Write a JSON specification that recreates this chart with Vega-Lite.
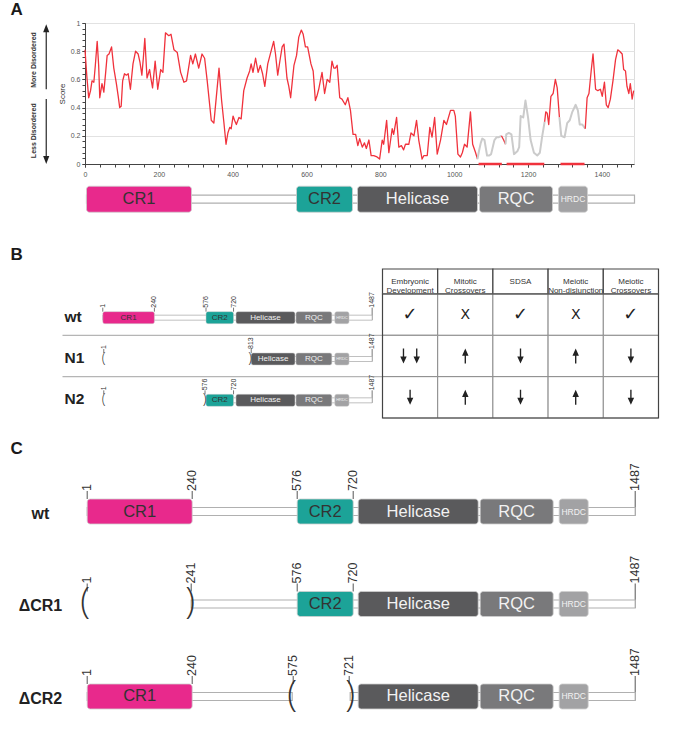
{
"$schema": "https://vega.github.io/schema/vega-lite/v6.json",
"padding": {"left": 10, "top": 0, "right": 5, "bottom": 0},
"autosize": {"type": "pad"},
"background": "white",
"spacing": 0,
"bounds": "flush",
"resolve": {"scale": {"color": "independent", "strokeWidth": "independent", "shape": "independent"}},
"config": {"view": {"stroke": null}, "font": "Liberation Sans", "axis": {"labelFont": "Liberation Sans", "titleFont": "Liberation Sans"}, "title": {"font": "Liberation Sans"}},
"datasets": {
"disorder": [
{"pos":0,"score":0.81,"seg":"s1","kind":"disordered"},{"pos":5,"score":0.62,"seg":"s1","kind":"disordered"},{"pos":10,"score":0.47,"seg":"s1","kind":"disordered"},{"pos":15,"score":0.52,"seg":"s1","kind":"disordered"},{"pos":19,"score":0.59,"seg":"s1","kind":"disordered"},{"pos":24,"score":0.58,"seg":"s1","kind":"disordered"},{"pos":28,"score":0.7,"seg":"s1","kind":"disordered"},{"pos":33,"score":0.87,"seg":"s1","kind":"disordered"},{"pos":37,"score":0.7,"seg":"s1","kind":"disordered"},{"pos":40,"score":0.47,"seg":"s1","kind":"disordered"},{"pos":46,"score":0.57,"seg":"s1","kind":"disordered"},{"pos":51,"score":0.51,"seg":"s1","kind":"disordered"},{"pos":56,"score":0.65,"seg":"s1","kind":"disordered"},{"pos":60,"score":0.77,"seg":"s1","kind":"disordered"},{"pos":65,"score":0.78,"seg":"s1","kind":"disordered"},{"pos":72,"score":0.83,"seg":"s1","kind":"disordered"},{"pos":78,"score":0.68,"seg":"s1","kind":"disordered"},{"pos":85,"score":0.57,"seg":"s1","kind":"disordered"},{"pos":90,"score":0.48,"seg":"s1","kind":"disordered"},{"pos":94,"score":0.4,"seg":"s1","kind":"disordered"},{"pos":98,"score":0.41,"seg":"s1","kind":"disordered"},{"pos":102,"score":0.59,"seg":"s1","kind":"disordered"},{"pos":107,"score":0.64,"seg":"s1","kind":"disordered"},{"pos":112,"score":0.63,"seg":"s1","kind":"disordered"},{"pos":117,"score":0.64,"seg":"s1","kind":"disordered"},{"pos":123,"score":0.53,"seg":"s1","kind":"disordered"},{"pos":130,"score":0.71,"seg":"s1","kind":"disordered"},{"pos":137,"score":0.8,"seg":"s1","kind":"disordered"},{"pos":144,"score":0.78,"seg":"s1","kind":"disordered"},{"pos":149,"score":0.72,"seg":"s1","kind":"disordered"},{"pos":154,"score":0.63,"seg":"s1","kind":"disordered"},{"pos":158,"score":0.75,"seg":"s1","kind":"disordered"},{"pos":162,"score":0.89,"seg":"s1","kind":"disordered"},{"pos":168,"score":0.61,"seg":"s1","kind":"disordered"},{"pos":175,"score":0.67,"seg":"s1","kind":"disordered"},{"pos":179,"score":0.6,"seg":"s1","kind":"disordered"},{"pos":183,"score":0.54,"seg":"s1","kind":"disordered"},{"pos":190,"score":0.73,"seg":"s1","kind":"disordered"},{"pos":197,"score":0.53,"seg":"s1","kind":"disordered"},{"pos":205,"score":0.67,"seg":"s1","kind":"disordered"},{"pos":211,"score":0.65,"seg":"s1","kind":"disordered"},{"pos":218,"score":0.93,"seg":"s1","kind":"disordered"},{"pos":227,"score":0.91,"seg":"s1","kind":"disordered"},{"pos":233,"score":0.92,"seg":"s1","kind":"disordered"},{"pos":241,"score":0.81,"seg":"s1","kind":"disordered"},{"pos":250,"score":0.79,"seg":"s1","kind":"disordered"},{"pos":259,"score":0.65,"seg":"s1","kind":"disordered"},{"pos":268,"score":0.58,"seg":"s1","kind":"disordered"},{"pos":275,"score":0.59,"seg":"s1","kind":"disordered"},{"pos":286,"score":0.77,"seg":"s1","kind":"disordered"},{"pos":292,"score":0.71,"seg":"s1","kind":"disordered"},{"pos":299,"score":0.78,"seg":"s1","kind":"disordered"},{"pos":308,"score":0.68,"seg":"s1","kind":"disordered"},{"pos":317,"score":0.78,"seg":"s1","kind":"disordered"},{"pos":324,"score":0.75,"seg":"s1","kind":"disordered"},{"pos":331,"score":0.59,"seg":"s1","kind":"disordered"},{"pos":342,"score":0.31,"seg":"s1","kind":"disordered"},{"pos":349,"score":0.29,"seg":"s1","kind":"disordered"},{"pos":358,"score":0.54,"seg":"s1","kind":"disordered"},{"pos":363,"score":0.68,"seg":"s1","kind":"disordered"},{"pos":370,"score":0.45,"seg":"s1","kind":"disordered"},{"pos":376,"score":0.3,"seg":"s1","kind":"disordered"},{"pos":382,"score":0.14,"seg":"s1","kind":"disordered"},{"pos":387,"score":0.22,"seg":"s1","kind":"disordered"},{"pos":392,"score":0.26,"seg":"s1","kind":"disordered"},{"pos":396,"score":0.25,"seg":"s1","kind":"disordered"},{"pos":401,"score":0.34,"seg":"s1","kind":"disordered"},{"pos":405,"score":0.31,"seg":"s1","kind":"disordered"},{"pos":410,"score":0.28,"seg":"s1","kind":"disordered"},{"pos":417,"score":0.33,"seg":"s1","kind":"disordered"},{"pos":423,"score":0.32,"seg":"s1","kind":"disordered"},{"pos":430,"score":0.52,"seg":"s1","kind":"disordered"},{"pos":439,"score":0.61,"seg":"s1","kind":"disordered"},{"pos":446,"score":0.66,"seg":"s1","kind":"disordered"},{"pos":450,"score":0.71,"seg":"s1","kind":"disordered"},{"pos":455,"score":0.65,"seg":"s1","kind":"disordered"},{"pos":462,"score":0.75,"seg":"s1","kind":"disordered"},{"pos":469,"score":0.65,"seg":"s1","kind":"disordered"},{"pos":475,"score":0.7,"seg":"s1","kind":"disordered"},{"pos":481,"score":0.64,"seg":"s1","kind":"disordered"},{"pos":487,"score":0.55,"seg":"s1","kind":"disordered"},{"pos":495,"score":0.71,"seg":"s1","kind":"disordered"},{"pos":504,"score":0.8,"seg":"s1","kind":"disordered"},{"pos":511,"score":0.87,"seg":"s1","kind":"disordered"},{"pos":516,"score":0.78,"seg":"s1","kind":"disordered"},{"pos":522,"score":0.63,"seg":"s1","kind":"disordered"},{"pos":529,"score":0.75,"seg":"s1","kind":"disordered"},{"pos":534,"score":0.83,"seg":"s1","kind":"disordered"},{"pos":539,"score":0.85,"seg":"s1","kind":"disordered"},{"pos":547,"score":0.61,"seg":"s1","kind":"disordered"},{"pos":552,"score":0.55,"seg":"s1","kind":"disordered"},{"pos":557,"score":0.47,"seg":"s1","kind":"disordered"},{"pos":562,"score":0.6,"seg":"s1","kind":"disordered"},{"pos":566,"score":0.7,"seg":"s1","kind":"disordered"},{"pos":573,"score":0.77,"seg":"s1","kind":"disordered"},{"pos":579,"score":0.9,"seg":"s1","kind":"disordered"},{"pos":586,"score":0.95,"seg":"s1","kind":"disordered"},{"pos":591,"score":0.92,"seg":"s1","kind":"disordered"},{"pos":597,"score":0.83,"seg":"s1","kind":"disordered"},{"pos":603,"score":0.83,"seg":"s1","kind":"disordered"},{"pos":612,"score":0.71,"seg":"s1","kind":"disordered"},{"pos":618,"score":0.66,"seg":"s1","kind":"disordered"},{"pos":624,"score":0.45,"seg":"s1","kind":"disordered"},{"pos":628,"score":0.48,"seg":"s1","kind":"disordered"},{"pos":633,"score":0.53,"seg":"s1","kind":"disordered"},{"pos":642,"score":0.65,"seg":"s1","kind":"disordered"},{"pos":649,"score":0.5,"seg":"s1","kind":"disordered"},{"pos":656,"score":0.6,"seg":"s1","kind":"disordered"},{"pos":663,"score":0.58,"seg":"s1","kind":"disordered"},{"pos":669,"score":0.73,"seg":"s1","kind":"disordered"},{"pos":674,"score":0.68,"seg":"s1","kind":"disordered"},{"pos":678,"score":0.68,"seg":"s1","kind":"disordered"},{"pos":683,"score":0.7,"seg":"s1","kind":"disordered"},{"pos":690,"score":0.47,"seg":"s1","kind":"disordered"},{"pos":696,"score":0.46,"seg":"s1","kind":"disordered"},{"pos":705,"score":0.42,"seg":"s1","kind":"disordered"},{"pos":712,"score":0.47,"seg":"s1","kind":"disordered"},{"pos":719,"score":0.38,"seg":"s1","kind":"disordered"},{"pos":726,"score":0.21,"seg":"s1","kind":"disordered"},{"pos":733,"score":0.21,"seg":"s1","kind":"disordered"},{"pos":739,"score":0.13,"seg":"s1","kind":"disordered"},{"pos":744,"score":0.18,"seg":"s1","kind":"disordered"},{"pos":751,"score":0.12,"seg":"s1","kind":"disordered"},{"pos":757,"score":0.15,"seg":"s1","kind":"disordered"},{"pos":762,"score":0.11,"seg":"s1","kind":"disordered"},{"pos":769,"score":0.17,"seg":"s1","kind":"disordered"},{"pos":775,"score":0.06,"seg":"s1","kind":"disordered"},{"pos":782,"score":0.06,"seg":"s1","kind":"disordered"},{"pos":791,"score":0.05,"seg":"s1","kind":"disordered"},{"pos":798,"score":0.035,"seg":"s1","kind":"disordered"},{"pos":805,"score":0.17,"seg":"s1","kind":"disordered"},{"pos":809,"score":0.14,"seg":"s1","kind":"disordered"},{"pos":817,"score":0.31,"seg":"s1","kind":"disordered"},{"pos":823,"score":0.08,"seg":"s1","kind":"disordered"},{"pos":832,"score":0.25,"seg":"s1","kind":"disordered"},{"pos":836,"score":0.21,"seg":"s1","kind":"disordered"},{"pos":844,"score":0.33,"seg":"s1","kind":"disordered"},{"pos":850,"score":0.12,"seg":"s1","kind":"disordered"},{"pos":857,"score":0.13,"seg":"s1","kind":"disordered"},{"pos":863,"score":0.1,"seg":"s1","kind":"disordered"},{"pos":868,"score":0.14,"seg":"s1","kind":"disordered"},{"pos":877,"score":0.14,"seg":"s1","kind":"disordered"},{"pos":883,"score":0.22,"seg":"s1","kind":"disordered"},{"pos":891,"score":0.2,"seg":"s1","kind":"disordered"},{"pos":898,"score":0.31,"seg":"s1","kind":"disordered"},{"pos":904,"score":0.17,"seg":"s1","kind":"disordered"},{"pos":913,"score":0.035,"seg":"s1","kind":"disordered"},{"pos":918,"score":0.06,"seg":"s1","kind":"disordered"},{"pos":927,"score":0.06,"seg":"s1","kind":"disordered"},{"pos":934,"score":0.26,"seg":"s1","kind":"disordered"},{"pos":940,"score":0.19,"seg":"s1","kind":"disordered"},{"pos":947,"score":0.33,"seg":"s1","kind":"disordered"},{"pos":954,"score":0.07,"seg":"s1","kind":"disordered"},{"pos":963,"score":0.17,"seg":"s1","kind":"disordered"},{"pos":972,"score":0.31,"seg":"s1","kind":"disordered"},{"pos":979,"score":0.28,"seg":"s1","kind":"disordered"},{"pos":990,"score":0.38,"seg":"s1","kind":"disordered"},{"pos":999,"score":0.38,"seg":"s1","kind":"disordered"},{"pos":1003,"score":0.34,"seg":"s1","kind":"disordered"},{"pos":1010,"score":0.07,"seg":"s1","kind":"disordered"},{"pos":1017,"score":0.05,"seg":"s1","kind":"disordered"},{"pos":1022,"score":0.08,"seg":"s1","kind":"disordered"},{"pos":1028,"score":0.14,"seg":"s1","kind":"disordered"},{"pos":1035,"score":0.12,"seg":"s1","kind":"disordered"},{"pos":1044,"score":0.37,"seg":"s1","kind":"disordered"},{"pos":1050,"score":0.14,"seg":"s1","kind":"disordered"},{"pos":1058,"score":0.08,"seg":"s1","kind":"disordered"},{"pos":1063,"score":0.035,"seg":"s1","kind":"disordered"},
{"pos":1063,"score":0.035,"seg":"s2","kind":"masked"},{"pos":1067,"score":0.09,"seg":"s2","kind":"masked"},{"pos":1072,"score":0.15,"seg":"s2","kind":"masked"},{"pos":1076,"score":0.18,"seg":"s2","kind":"masked"},{"pos":1082,"score":0.17,"seg":"s2","kind":"masked"},{"pos":1089,"score":0.06,"seg":"s2","kind":"masked"},{"pos":1095,"score":0.06,"seg":"s2","kind":"masked"},{"pos":1100,"score":0.07,"seg":"s2","kind":"masked"},{"pos":1109,"score":0.17,"seg":"s2","kind":"masked"},{"pos":1115,"score":0.19,"seg":"s2","kind":"masked"},{"pos":1121,"score":0.19,"seg":"s2","kind":"masked"},{"pos":1128,"score":0.2,"seg":"s2","kind":"masked"},
{"pos":1128,"score":0.2,"seg":"s3","kind":"disordered"},{"pos":1134,"score":0.17,"seg":"s3","kind":"disordered"},{"pos":1139,"score":0.14,"seg":"s3","kind":"disordered"},
{"pos":1139,"score":0.14,"seg":"s4","kind":"masked"},{"pos":1141,"score":0.21,"seg":"s4","kind":"masked"},{"pos":1148,"score":0.22,"seg":"s4","kind":"masked"},{"pos":1155,"score":0.21,"seg":"s4","kind":"masked"},{"pos":1162,"score":0.07,"seg":"s4","kind":"masked"},{"pos":1171,"score":0.09,"seg":"s4","kind":"masked"},{"pos":1176,"score":0.12,"seg":"s4","kind":"masked"},{"pos":1180,"score":0.34,"seg":"s4","kind":"masked"},{"pos":1187,"score":0.33,"seg":"s4","kind":"masked"},{"pos":1193,"score":0.45,"seg":"s4","kind":"masked"},{"pos":1200,"score":0.33,"seg":"s4","kind":"masked"},{"pos":1207,"score":0.17,"seg":"s4","kind":"masked"},{"pos":1216,"score":0.08,"seg":"s4","kind":"masked"},{"pos":1225,"score":0.06,"seg":"s4","kind":"masked"},{"pos":1232,"score":0.08,"seg":"s4","kind":"masked"},{"pos":1238,"score":0.19,"seg":"s4","kind":"masked"},{"pos":1245,"score":0.3,"seg":"s4","kind":"masked"},
{"pos":1245,"score":0.3,"seg":"s5","kind":"disordered"},{"pos":1248,"score":0.37,"seg":"s5","kind":"disordered"},{"pos":1252,"score":0.36,"seg":"s5","kind":"disordered"},{"pos":1256,"score":0.28,"seg":"s5","kind":"disordered"},{"pos":1262,"score":0.48,"seg":"s5","kind":"disordered"},{"pos":1268,"score":0.5,"seg":"s5","kind":"disordered"},{"pos":1274,"score":0.6,"seg":"s5","kind":"disordered"},{"pos":1279,"score":0.54,"seg":"s5","kind":"disordered"},{"pos":1285,"score":0.33,"seg":"s5","kind":"disordered"},
{"pos":1285,"score":0.33,"seg":"s6","kind":"masked"},{"pos":1290,"score":0.2,"seg":"s6","kind":"masked"},{"pos":1299,"score":0.19,"seg":"s6","kind":"masked"},{"pos":1306,"score":0.29,"seg":"s6","kind":"masked"},{"pos":1313,"score":0.31,"seg":"s6","kind":"masked"},{"pos":1320,"score":0.37,"seg":"s6","kind":"masked"},{"pos":1329,"score":0.42,"seg":"s6","kind":"masked"},{"pos":1335,"score":0.38,"seg":"s6","kind":"masked"},{"pos":1340,"score":0.28,"seg":"s6","kind":"masked"},{"pos":1347,"score":0.28,"seg":"s6","kind":"masked"},{"pos":1355,"score":0.25,"seg":"s6","kind":"masked"},
{"pos":1355,"score":0.25,"seg":"s7","kind":"disordered"},{"pos":1360,"score":0.47,"seg":"s7","kind":"disordered"},{"pos":1365,"score":0.5,"seg":"s7","kind":"disordered"},{"pos":1371,"score":0.66,"seg":"s7","kind":"disordered"},{"pos":1376,"score":0.78,"seg":"s7","kind":"disordered"},{"pos":1383,"score":0.53,"seg":"s7","kind":"disordered"},{"pos":1389,"score":0.52,"seg":"s7","kind":"disordered"},{"pos":1396,"score":0.53,"seg":"s7","kind":"disordered"},{"pos":1401,"score":0.48,"seg":"s7","kind":"disordered"},{"pos":1407,"score":0.58,"seg":"s7","kind":"disordered"},{"pos":1412,"score":0.42,"seg":"s7","kind":"disordered"},{"pos":1417,"score":0.4,"seg":"s7","kind":"disordered"},{"pos":1423,"score":0.46,"seg":"s7","kind":"disordered"},{"pos":1430,"score":0.59,"seg":"s7","kind":"disordered"},{"pos":1437,"score":0.74,"seg":"s7","kind":"disordered"},{"pos":1443,"score":0.81,"seg":"s7","kind":"disordered"},{"pos":1448,"score":0.8,"seg":"s7","kind":"disordered"},{"pos":1455,"score":0.78,"seg":"s7","kind":"disordered"},{"pos":1459,"score":0.67,"seg":"s7","kind":"disordered"},{"pos":1464,"score":0.66,"seg":"s7","kind":"disordered"},{"pos":1468,"score":0.55,"seg":"s7","kind":"disordered"},{"pos":1473,"score":0.5,"seg":"s7","kind":"disordered"},{"pos":1477,"score":0.57,"seg":"s7","kind":"disordered"},{"pos":1482,"score":0.46,"seg":"s7","kind":"disordered"},{"pos":1486,"score":0.52,"seg":"s7","kind":"disordered"}
],
"ordered_regions": [{"start":1066,"end":1129},{"start":1142,"end":1244},{"start":1288,"end":1353}],
"notes": [{"label":"More Disordered","dir":"up"},{"label":"Less Disordered","dir":"down"}],
"domains": [
{"panel":"A","row":"wt","name":"CR1","start":0,"end":105},{"panel":"A","row":"wt","name":"CR2","start":210,"end":266},{"panel":"A","row":"wt","name":"Helicase","start":271,"end":391},{"panel":"A","row":"wt","name":"RQC","start":393,"end":466},{"panel":"A","row":"wt","name":"HRDC","start":472,"end":501},
{"panel":"B","row":"wt","name":"CR1","start":0,"end":105},{"panel":"B","row":"wt","name":"CR2","start":210,"end":266},{"panel":"B","row":"wt","name":"Helicase","start":271,"end":391},{"panel":"B","row":"wt","name":"RQC","start":393,"end":466},{"panel":"B","row":"wt","name":"HRDC","start":472,"end":501},
{"panel":"B","row":"N1","name":"Helicase","start":302,"end":391},{"panel":"B","row":"N1","name":"RQC","start":393,"end":466},{"panel":"B","row":"N1","name":"HRDC","start":472,"end":501},
{"panel":"B","row":"N2","name":"CR2","start":210,"end":266},{"panel":"B","row":"N2","name":"Helicase","start":271,"end":391},{"panel":"B","row":"N2","name":"RQC","start":393,"end":466},{"panel":"B","row":"N2","name":"HRDC","start":472,"end":501},
{"panel":"C","row":"wt","name":"CR1","start":0,"end":105},{"panel":"C","row":"wt","name":"CR2","start":210,"end":266},{"panel":"C","row":"wt","name":"Helicase","start":271,"end":391},{"panel":"C","row":"wt","name":"RQC","start":393,"end":466},{"panel":"C","row":"wt","name":"HRDC","start":472,"end":501},
{"panel":"C","row":"ΔCR1","name":"CR2","start":210,"end":266},{"panel":"C","row":"ΔCR1","name":"Helicase","start":271,"end":391},{"panel":"C","row":"ΔCR1","name":"RQC","start":393,"end":466},{"panel":"C","row":"ΔCR1","name":"HRDC","start":472,"end":501},
{"panel":"C","row":"ΔCR2","name":"CR1","start":0,"end":105},{"panel":"C","row":"ΔCR2","name":"Helicase","start":271,"end":391},{"panel":"C","row":"ΔCR2","name":"RQC","start":393,"end":466},{"panel":"C","row":"ΔCR2","name":"HRDC","start":472,"end":501}
],
"tracks": [
{"panel":"A","row":"wt","start":0,"end":548},
{"panel":"B","row":"wt","start":0,"end":548},{"panel":"B","row":"N1","start":302,"end":548},{"panel":"B","row":"N2","start":210,"end":548},
{"panel":"C","row":"wt","start":0,"end":548},{"panel":"C","row":"ΔCR1","start":104,"end":548},{"panel":"C","row":"ΔCR2","start":0,"end":205},{"panel":"C","row":"ΔCR2","start":263,"end":548}
],
"sites": [
{"panel":"B","row":"wt","pos":0,"label":"1"},{"panel":"B","row":"wt","pos":105,"label":"240"},{"panel":"B","row":"wt","pos":210,"label":"576"},{"panel":"B","row":"wt","pos":266,"label":"720"},{"panel":"B","row":"wt","pos":548,"label":"1487"},
{"panel":"B","row":"N1","pos":2,"label":"1"},{"panel":"B","row":"N1","pos":302,"label":"813"},{"panel":"B","row":"N1","pos":548,"label":"1487"},
{"panel":"B","row":"N2","pos":2,"label":"1"},{"panel":"B","row":"N2","pos":208,"label":"576"},{"panel":"B","row":"N2","pos":266,"label":"720"},{"panel":"B","row":"N2","pos":548,"label":"1487"},
{"panel":"C","row":"wt","pos":0,"label":"1"},{"panel":"C","row":"wt","pos":105,"label":"240"},{"panel":"C","row":"wt","pos":210,"label":"576"},{"panel":"C","row":"wt","pos":266,"label":"720"},{"panel":"C","row":"wt","pos":548,"label":"1487"},
{"panel":"C","row":"ΔCR1","pos":0,"label":"1"},{"panel":"C","row":"ΔCR1","pos":104,"label":"241"},{"panel":"C","row":"ΔCR1","pos":210,"label":"576"},{"panel":"C","row":"ΔCR1","pos":266,"label":"720"},{"panel":"C","row":"ΔCR1","pos":548,"label":"1487"},
{"panel":"C","row":"ΔCR2","pos":0,"label":"1"},{"panel":"C","row":"ΔCR2","pos":105,"label":"240"},{"panel":"C","row":"ΔCR2","pos":206,"label":"575"},{"panel":"C","row":"ΔCR2","pos":262,"label":"721"},{"panel":"C","row":"ΔCR2","pos":548,"label":"1487"}
],
"breaks": [
{"panel":"B","row":"N1","pos":2,"side":"("},{"panel":"B","row":"N1","pos":300,"side":")"},
{"panel":"B","row":"N2","pos":2,"side":"("},{"panel":"B","row":"N2","pos":207,"side":")"},
{"panel":"C","row":"ΔCR1","pos":-2,"side":"("},{"panel":"C","row":"ΔCR1","pos":103,"side":")"},
{"panel":"C","row":"ΔCR2","pos":205,"side":"("},{"panel":"C","row":"ΔCR2","pos":263,"side":")"}
],
"rowlabels": [{"panel":"B","row":"wt"},{"panel":"B","row":"N1"},{"panel":"B","row":"N2"},{"panel":"C","row":"wt"},{"panel":"C","row":"ΔCR1"},{"panel":"C","row":"ΔCR2"}],
"separators": [{"row":"N1"},{"row":"N2"}],
"columns": [{"col":"Embryonic Development","ci":0},{"col":"Mitotic Crossovers","ci":1},{"col":"SDSA","ci":2},{"col":"Meiotic Non-disjunction","ci":3},{"col":"Meiotic Crossovers","ci":4}],
"effects": [
{"row":"wt","col":"Embryonic Development","sym":"✓","k":"c"},{"row":"wt","col":"Mitotic Crossovers","sym":"X","k":"c"},{"row":"wt","col":"SDSA","sym":"✓","k":"c"},{"row":"wt","col":"Meiotic Non-disjunction","sym":"X","k":"c"},{"row":"wt","col":"Meiotic Crossovers","sym":"✓","k":"c"},
{"row":"N1","col":"Embryonic Development","sym":"↓","k":"l"},{"row":"N1","col":"Embryonic Development","sym":"↓","k":"r"},{"row":"N1","col":"Mitotic Crossovers","sym":"↑","k":"c"},{"row":"N1","col":"SDSA","sym":"↓","k":"c"},{"row":"N1","col":"Meiotic Non-disjunction","sym":"↑","k":"c"},{"row":"N1","col":"Meiotic Crossovers","sym":"↓","k":"c"},
{"row":"N2","col":"Embryonic Development","sym":"↓","k":"c"},{"row":"N2","col":"Mitotic Crossovers","sym":"↑","k":"c"},{"row":"N2","col":"SDSA","sym":"↓","k":"c"},{"row":"N2","col":"Meiotic Non-disjunction","sym":"↑","k":"c"},{"row":"N2","col":"Meiotic Crossovers","sym":"↓","k":"c"}
]
},
"vconcat": [
{
"width": 549, "height": 141,
"view": {"stroke": "#dcdcdc"},
"title": {"text": "A", "anchor": "start", "frame": "group", "fontSize": 17, "fontWeight": "bold", "color": "#1a1a1a", "dx": -74.5, "dy": 17, "offset": 4, "baseline": "alphabetic"},
"layer": [
{"layer": [
{"data": {"name": "disorder"}, "mark": {"type": "line", "strokeJoin": "round"},
 "encoding": {
  "x": {"field": "pos", "type": "quantitative", "scale": {"domain": [0, 1487], "nice": false, "zero": false},
   "axis": {"values": [0,200,400,600,800,1000,1200,1400], "tickCount": 50, "format": "d", "labelFontSize": 7, "labelColor": "#555555", "labelPadding": 3, "tickSize": 3, "tickColor": "#444444", "domainColor": "#444444", "grid": false, "title": null, "labelOverlap": false, "labelFlush": false}},
  "y": {"field": "score", "type": "quantitative", "scale": {"domain": [0, 1], "nice": false},
   "axis": {"values": [0,0.2,0.4,0.6,0.8,1], "tickCount": 50, "format": ".1~f", "labelFontSize": 7, "labelColor": "#555555", "labelPadding": 2, "tickSize": 3, "tickColor": "#444444", "domainColor": "#444444", "grid": true, "gridColor": "#e2e2e2", "title": "Score", "titleFontSize": 8, "titleFontWeight": "normal", "titleColor": "#333333", "titlePadding": 4, "labelOverlap": false, "labelFlush": false}},
  "detail": {"field": "seg", "type": "nominal"},
  "color": {"field": "kind", "type": "nominal", "scale": {"domain": ["disordered", "masked"], "range": ["#f0323c", "#cbcbcb"]}, "legend": null},
  "strokeWidth": {"field": "kind", "type": "nominal", "scale": {"domain": ["disordered", "masked"], "range": [1.3, 2]}, "legend": null}
 }},
{"data": {"name": "ordered_regions"}, "mark": {"type": "rule", "color": "#f0323c", "strokeWidth": 2.5},
 "encoding": {"x": {"field": "start", "type": "quantitative"}, "x2": {"field": "end"}, "y": {"datum": 0, "type": "quantitative"}}},
{"mark": {"type": "rule", "color": "#555555", "strokeWidth": 1}, "encoding": {"y": {"datum": 0.5, "type": "quantitative"}}},
{"data": {"name": "notes"}, "transform": [{"filter": "datum.dir === 'up'"}],
 "mark": {"type": "point", "shape": "M-0.018,1L0.018,1L0.018,-0.75L0.095,-0.75L0,-1L-0.095,-0.75L-0.018,-0.75Z", "filled": true, "size": 4225, "color": "#222222", "opacity": 1, "clip": false},
 "encoding": {"x": {"datum": -105, "type": "quantitative"}, "y": {"datum": 0.761, "type": "quantitative"}}},
{"data": {"name": "notes"}, "transform": [{"filter": "datum.dir === 'down'"}],
 "mark": {"type": "point", "shape": "M-0.018,-1L0.018,-1L0.018,0.75L0.095,0.75L0,1L-0.095,0.75L-0.018,0.75Z", "filled": true, "size": 4225, "color": "#222222", "opacity": 1, "clip": false},
 "encoding": {"x": {"datum": -105, "type": "quantitative"}, "y": {"datum": 0.23, "type": "quantitative"}}},
{"data": {"name": "notes"}, "transform": [{"filter": "datum.dir === 'up'"}],
 "mark": {"type": "text", "angle": 270, "fontSize": 7, "fontWeight": "bold", "color": "#333333", "align": "center", "baseline": "middle", "clip": false},
 "encoding": {"x": {"datum": -139, "type": "quantitative"}, "y": {"datum": 0.738, "type": "quantitative"}, "text": {"field": "label"}}},
{"data": {"name": "notes"}, "transform": [{"filter": "datum.dir === 'down'"}],
 "mark": {"type": "text", "angle": 270, "fontSize": 7, "fontWeight": "bold", "color": "#333333", "align": "center", "baseline": "middle", "clip": false},
 "encoding": {"x": {"datum": -139, "type": "quantitative"}, "y": {"datum": 0.236, "type": "quantitative"}, "text": {"field": "label"}}}
]},
{"layer": [
{"mark": {"type": "rule", "strokeOpacity": 0}, "encoding": {"x": {"datum": 0, "type": "quantitative", "scale": {"domain": [0, 1487], "nice": false, "zero": false}, "axis": {"orient": "bottom", "values": [0,40,80,120,160,200,240,280,320,360,400,440,480,520,560,600,640,680,720,760,800,840,880,920,960,1000,1040,1080,1120,1160,1200,1240,1280,1320,1360,1400,1440,1480], "tickCount": 200, "labels": false, "domain": false, "tickSize": 3, "tickColor": "#444444", "grid": false, "title": null}}}},
{"mark": {"type": "rule", "strokeOpacity": 0}, "encoding": {"y": {"datum": 0, "type": "quantitative", "scale": {"domain": [0, 1], "nice": false}, "axis": {"orient": "left", "values": [0,0.04,0.08,0.12,0.16,0.2,0.24,0.28,0.32,0.36,0.4,0.44,0.48,0.52,0.56,0.6,0.64,0.68,0.72,0.76,0.8,0.84,0.88,0.92,0.96,1], "tickCount": 200, "labels": false, "domain": false, "tickSize": 3, "tickColor": "#444444", "grid": false, "title": null}}}}
]}
],
"resolve": {"scale": {"x": "independent", "y": "independent"}, "axis": {"x": "independent", "y": "independent"}}
},
{
"width": 551, "height": 105,
"layer": [
{"data": {"name": "tracks"}, "transform": [{"filter": "datum.panel === 'A'"}],
 "mark": {"type": "bar", "height": 8, "fill": "white", "stroke": "#b0b0b0", "strokeWidth": 1.2},
 "encoding": {"x": {"field": "start", "type": "quantitative", "scale": {"domain": [-1.5, 549.5], "nice": false, "zero": false}, "axis": null}, "x2": {"field": "end"},
  "y": {"field": "row", "type": "nominal", "axis": null, "scale": {"domain": ["wt"], "paddingInner": 0, "paddingOuter": 1.519, "align": 0.2532}}}},
{"data": {"name": "domains"}, "transform": [{"filter": "datum.panel === 'A'"}],
 "mark": {"type": "bar", "height": 26, "cornerRadius": 3, "stroke": "#cfcfcf", "strokeWidth": 0.8},
 "encoding": {"x": {"field": "start", "type": "quantitative", "axis": null}, "x2": {"field": "end"}, "y": {"field": "row", "type": "nominal", "axis": null},
  "color": {"field": "name", "type": "nominal", "scale": {"domain": ["CR1","CR2","Helicase","RQC","HRDC"], "range": ["#e8298c","#1ca398","#5a5a5c","#79797b","#a2a2a4"]}, "legend": null}}},
{"data": {"name": "domains"}, "transform": [{"filter": "datum.panel === 'A'"}, {"calculate": "(datum.start + datum.end) / 2", "as": "mid"}],
 "mark": {"type": "text", "align": "center", "baseline": "middle"},
 "encoding": {"x": {"field": "mid", "type": "quantitative", "axis": null}, "y": {"field": "row", "type": "nominal", "axis": null}, "text": {"field": "name"},
  "color": {"condition": {"test": "datum.name === 'CR1' || datum.name === 'CR2'", "value": "#333333"}, "value": "#f2f2f2"},
  "size": {"condition": {"test": "datum.name === 'HRDC'", "value": 8.5}, "value": 16.5}}}
]
},
{
"width": 573.5, "height": 25,
"title": {"text": "B", "anchor": "start", "frame": "group", "fontSize": 17, "fontWeight": "bold", "color": "#1a1a1a", "dx": -74.5, "dy": 20, "offset": 11, "baseline": "alphabetic"},
"layer": [
{"data": {"name": "columns"}, "transform": [{"calculate": "datum.ci + 1", "as": "ci1"}],
 "mark": {"type": "rect", "fill": "white", "stroke": "#444444", "strokeWidth": 1.2},
 "encoding": {"x": {"field": "ci", "type": "quantitative", "scale": {"domain": [-5.3895, 5], "nice": false, "zero": false}, "axis": null}, "x2": {"field": "ci1"}}},
{"data": {"name": "columns"}, "transform": [{"calculate": "datum.ci + 0.5", "as": "cm"}],
 "mark": {"type": "text", "lineBreak": " ", "fontSize": 8, "lineHeight": 9.5, "color": "#333333", "align": "center", "baseline": "middle"},
 "encoding": {"x": {"field": "cm", "type": "quantitative", "axis": null}, "text": {"field": "col"}}}
]
},
{
"width": 573.5, "height": 124,
"layer": [
{"layer": [
{"data": {"name": "separators"}, "mark": {"type": "rule", "color": "#b5b5b5", "strokeWidth": 1.2, "clip": false},
 "encoding": {"y": {"field": "row", "type": "nominal", "bandPosition": 0, "axis": null, "scale": {"domain": ["wt","N1","N2"], "paddingInner": 0, "paddingOuter": 0}},
  "x": {"datum": -82, "type": "quantitative", "axis": null, "scale": {"domain": [-36.2, 1130.6], "nice": false, "zero": false}}, "x2": {"datum": 569.1}}},
{"data": {"name": "rowlabels"}, "transform": [{"filter": "datum.panel === 'B'"}],
 "mark": {"type": "text", "align": "left", "baseline": "middle", "fontSize": 15.5, "fontWeight": "bold", "color": "#222222", "yOffset": 2, "clip": false},
 "encoding": {"x": {"datum": -78, "type": "quantitative", "axis": null}, "y": {"field": "row", "type": "nominal", "axis": null}, "text": {"field": "row"}}},
{"data": {"name": "sites"}, "transform": [{"filter": "datum.panel === 'B' && datum.label !== '1487'"}],
 "mark": {"type": "point", "shape": "M0,-1L0,1", "filled": false, "color": "#555555", "strokeWidth": 0.8, "size": 16, "yOffset": -5, "opacity": 1},
 "encoding": {"x": {"field": "pos", "type": "quantitative", "axis": null}, "y": {"field": "row", "type": "nominal", "axis": null}}},
{"data": {"name": "sites"}, "transform": [{"filter": "datum.panel === 'B' && datum.label === '1487'"}],
 "mark": {"type": "point", "shape": "M0,-1L0,1", "filled": false, "color": "#555555", "strokeWidth": 0.8, "size": 156, "yOffset": -0.75, "opacity": 1},
 "encoding": {"x": {"field": "pos", "type": "quantitative", "axis": null}, "y": {"field": "row", "type": "nominal", "axis": null}}},
{"data": {"name": "tracks"}, "transform": [{"filter": "datum.panel === 'B'"}],
 "mark": {"type": "bar", "height": 5, "fill": "white", "stroke": "#b0b0b0", "strokeWidth": 0.8, "yOffset": 3},
 "encoding": {"x": {"field": "start", "type": "quantitative", "axis": null}, "x2": {"field": "end"}, "y": {"field": "row", "type": "nominal", "axis": null}}},
{"data": {"name": "domains"}, "transform": [{"filter": "datum.panel === 'B'"}],
 "mark": {"type": "bar", "height": 12, "cornerRadius": 2, "stroke": "#cfcfcf", "strokeWidth": 0.5, "yOffset": 3},
 "encoding": {"x": {"field": "start", "type": "quantitative", "axis": null}, "x2": {"field": "end"}, "y": {"field": "row", "type": "nominal", "axis": null},
  "color": {"field": "name", "type": "nominal", "scale": {"domain": ["CR1","CR2","Helicase","RQC","HRDC"], "range": ["#e8298c","#1ca398","#5a5a5c","#79797b","#a2a2a4"]}, "legend": null}}},
{"data": {"name": "domains"}, "transform": [{"filter": "datum.panel === 'B'"}, {"calculate": "(datum.start + datum.end) / 2", "as": "mid"}],
 "mark": {"type": "text", "align": "center", "baseline": "middle", "yOffset": 3},
 "encoding": {"x": {"field": "mid", "type": "quantitative", "axis": null}, "y": {"field": "row", "type": "nominal", "axis": null}, "text": {"field": "name"},
  "color": {"condition": {"test": "datum.name === 'CR1' || datum.name === 'CR2'", "value": "#333333"}, "value": "#f2f2f2"},
  "size": {"condition": {"test": "datum.name === 'HRDC'", "value": 4}, "value": 8}}},
{"data": {"name": "breaks"}, "transform": [{"filter": "datum.panel === 'B'"}],
 "mark": {"type": "text", "align": "center", "baseline": "middle", "fontSize": 14, "font": "Open Sans", "fontWeight": 300, "color": "#333333", "yOffset": 2.5},
 "encoding": {"x": {"field": "pos", "type": "quantitative", "axis": null}, "y": {"field": "row", "type": "nominal", "axis": null}, "text": {"field": "side"}}},
{"data": {"name": "sites"}, "transform": [{"filter": "datum.panel === 'B'"}],
 "mark": {"type": "text", "angle": 270, "align": "left", "baseline": "middle", "fontSize": 7, "color": "#333333", "yOffset": -7},
 "encoding": {"x": {"field": "pos", "type": "quantitative", "axis": null}, "y": {"field": "row", "type": "nominal", "axis": null}, "text": {"field": "label"}}}
]},
{"layer": [
{"data": {"name": "effects"}, "transform": [{"lookup": "col", "from": {"data": {"name": "columns"}, "key": "col", "fields": ["ci"]}}, {"calculate": "datum.ci + 1", "as": "ci1"}],
 "mark": {"type": "rect", "fill": "white", "stroke": "#8c8c8c", "strokeWidth": 1},
 "encoding": {"x": {"field": "ci", "type": "quantitative", "axis": null, "scale": {"domain": [-5.3895, 5], "nice": false, "zero": false}}, "x2": {"field": "ci1"},
  "y": {"field": "row", "type": "nominal", "axis": null}}},
{"data": {"name": "columns"}, "transform": [{"calculate": "datum.ci + 1", "as": "ci1"}],
 "mark": {"type": "rect", "fill": null, "filled": false, "stroke": "#444444", "strokeWidth": 1.2},
 "encoding": {"x": {"aggregate": "min", "field": "ci", "type": "quantitative", "axis": null}, "x2": {"aggregate": "max", "field": "ci1"}}},
{"data": {"name": "effects"}, "transform": [{"filter": "datum.sym === '✓' || datum.sym === 'X'"}, {"lookup": "col", "from": {"data": {"name": "columns"}, "key": "col", "fields": ["ci"]}}, {"calculate": "datum.ci + 0.5", "as": "cm"}],
 "mark": {"type": "text", "font": "DejaVu Sans", "color": "#222222", "align": "center", "baseline": "middle"},
 "encoding": {
  "x": {"field": "cm", "type": "quantitative", "axis": null},
  "y": {"field": "row", "type": "nominal", "axis": null},
  "text": {"field": "sym"},
  "size": {"condition": {"test": "datum.sym === 'X'", "value": 14}, "value": 18}}},
{"data": {"name": "effects"}, "transform": [{"filter": "datum.sym === '↑' || datum.sym === '↓'"}, {"lookup": "col", "from": {"data": {"name": "columns"}, "key": "col", "fields": ["ci"]}}, {"calculate": "datum.ci + 0.5 + (datum.k === 'l' ? -0.12 : (datum.k === 'r' ? 0.12 : 0))", "as": "cm"}],
 "mark": {"type": "point", "filled": true, "size": 225, "color": "#222222", "opacity": 1, "strokeWidth": 0},
 "encoding": {
  "x": {"field": "cm", "type": "quantitative", "axis": null},
  "y": {"field": "row", "type": "nominal", "axis": null},
  "shape": {"field": "sym", "type": "nominal", "scale": {"domain": ["↑","↓"], "range": ["M-0.09,1L0.09,1L0.09,-0.05L0.43,-0.05L0,-1L-0.43,-0.05L-0.09,-0.05Z", "M-0.09,-1L0.09,-1L0.09,0.05L0.43,0.05L0,1L-0.43,0.05L-0.09,0.05Z"]}, "legend": null}}}
]}
],
"resolve": {"scale": {"x": "independent"}}
},
{
"width": 552, "height": 312,
"title": {"text": "C", "anchor": "start", "frame": "group", "fontSize": 17, "fontWeight": "bold", "color": "#1a1a1a", "dx": -74.5, "dy": 53, "offset": 0, "baseline": "alphabetic"},
"layer": [
{"data": {"name": "sites"}, "transform": [{"filter": "datum.panel === 'C' && datum.label !== '1487'"}],
 "mark": {"type": "point", "shape": "M0,-1L0,1", "filled": false, "color": "#555555", "strokeWidth": 1, "size": 64, "yOffset": -16.5, "opacity": 1},
 "encoding": {"x": {"field": "pos", "type": "quantitative", "axis": null, "scale": {"domain": [-2.2, 549.8], "nice": false, "zero": false}},
  "y": {"field": "row", "type": "nominal", "axis": null, "scale": {"domain": ["wt","ΔCR1","ΔCR2"], "paddingInner": 0.5, "paddingOuter": 0.4365, "align": 0.8715}}}},
{"data": {"name": "sites"}, "transform": [{"filter": "datum.panel === 'C' && datum.label === '1487'"}],
 "mark": {"type": "point", "shape": "M0,-1L0,1", "filled": false, "color": "#555555", "strokeWidth": 1, "size": 600, "yOffset": -8.25, "opacity": 1},
 "encoding": {"x": {"field": "pos", "type": "quantitative", "axis": null}, "y": {"field": "row", "type": "nominal", "axis": null}}},
{"data": {"name": "rowlabels"}, "transform": [{"filter": "datum.panel === 'C'"}],
 "mark": {"type": "text", "align": "center", "baseline": "middle", "fontSize": 16, "fontWeight": "bold", "color": "#222222", "yOffset": 2.5, "clip": false},
 "encoding": {"x": {"datum": -46.7, "type": "quantitative", "axis": null}, "y": {"field": "row", "type": "nominal", "axis": null}, "text": {"field": "row"}}},
{"data": {"name": "tracks"}, "transform": [{"filter": "datum.panel === 'C'"}],
 "mark": {"type": "bar", "height": 8, "fill": "white", "stroke": "#b0b0b0", "strokeWidth": 1.2},
 "encoding": {"x": {"field": "start", "type": "quantitative", "axis": null}, "x2": {"field": "end"}, "y": {"field": "row", "type": "nominal", "axis": null}}},
{"data": {"name": "domains"}, "transform": [{"filter": "datum.panel === 'C'"}],
 "mark": {"type": "bar", "height": 25, "cornerRadius": 3, "stroke": "#cfcfcf", "strokeWidth": 0.8},
 "encoding": {"x": {"field": "start", "type": "quantitative", "axis": null}, "x2": {"field": "end"}, "y": {"field": "row", "type": "nominal", "axis": null},
  "color": {"field": "name", "type": "nominal", "scale": {"domain": ["CR1","CR2","Helicase","RQC","HRDC"], "range": ["#e8298c","#1ca398","#5a5a5c","#79797b","#a2a2a4"]}, "legend": null}}},
{"data": {"name": "domains"}, "transform": [{"filter": "datum.panel === 'C'"}, {"calculate": "(datum.start + datum.end) / 2", "as": "mid"}],
 "mark": {"type": "text", "align": "center", "baseline": "middle"},
 "encoding": {"x": {"field": "mid", "type": "quantitative", "axis": null}, "y": {"field": "row", "type": "nominal", "axis": null}, "text": {"field": "name"},
  "color": {"condition": {"test": "datum.name === 'CR1' || datum.name === 'CR2'", "value": "#333333"}, "value": "#f2f2f2"},
  "size": {"condition": {"test": "datum.name === 'HRDC'", "value": 8.5}, "value": 16.5}}},
{"data": {"name": "breaks"}, "transform": [{"filter": "datum.panel === 'C'"}],
 "mark": {"type": "text", "align": "center", "baseline": "middle", "fontSize": 36, "font": "Open Sans", "fontWeight": 300, "color": "#333333", "yOffset": -1.5},
 "encoding": {"x": {"field": "pos", "type": "quantitative", "axis": null}, "y": {"field": "row", "type": "nominal", "axis": null}, "text": {"field": "side"}}},
{"data": {"name": "sites"}, "transform": [{"filter": "datum.panel === 'C'"}],
 "mark": {"type": "text", "angle": 270, "align": "left", "baseline": "middle", "fontSize": 12.5, "color": "#333333", "yOffset": -20.5},
 "encoding": {"x": {"field": "pos", "type": "quantitative", "axis": null}, "y": {"field": "row", "type": "nominal", "axis": null}, "text": {"field": "label"}}}
]
}
]
}
